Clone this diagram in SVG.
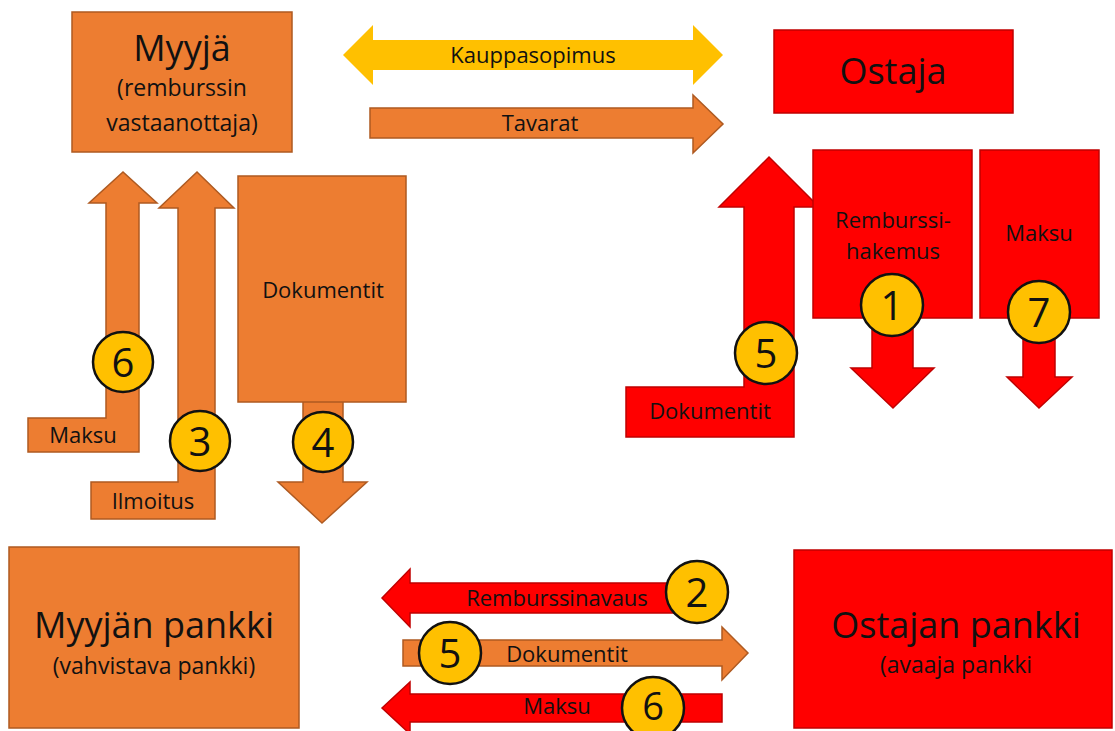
<svg xmlns="http://www.w3.org/2000/svg" width="1115" height="731" viewBox="0 0 1115 731">
<style>
text{font-family:"Open Sans","Noto Sans","Liberation Sans",sans-serif;fill:#111;text-anchor:middle}
.or{fill:#ED7D31;stroke:#AE5A21;stroke-width:1.5}
.rd{fill:#FF0000;stroke:#C00000;stroke-width:1.5}
.ye{fill:#FFC000}
.badge circle{fill:#FFC000;stroke:#111;stroke-width:2.5}
.badge text{font-size:40px}
.big{font-size:36px}
.mid{font-size:23px}
.sm{font-size:22px}
</style>
<rect width="1115" height="731" fill="#fff"/>
<g id="connectors">
<path class="ye" d="M343,55 L373,25 L373,40 L693,40 L693,25 L723,55 L693,85 L693,70 L373,70 L373,85 Z"/>
<text class="sm" x="533" y="63">Kauppasopimus</text>
<path class="or" d="M370,108 L693,108 L693,95 L723,124 L693,153 L693,138 L370,138 Z"/>
<text class="sm" x="540" y="131">Tavarat</text>
<path class="rd" d="M626,387 L744,387 L744,207 L719,207 L769,157 L819,207 L794,207 L794,437 L626,437 Z"/>
<text class="sm" x="710" y="419">Dokumentit</text>
<path class="rd" d="M872,310 L913,310 L913,368 L934,368 L893,408 L851,368 L872,368 Z"/>
<path class="rd" d="M1023,310 L1055,310 L1055,377 L1072,377 L1039,408 L1007,377 L1023,377 Z"/>
<path class="or" d="M28,418 L106,418 L106,203 L89,203 L123,172 L157,203 L139,203 L139,452 L28,452 Z"/>
<text class="sm" x="83" y="443">Maksu</text>
<path class="or" d="M91,482 L178,482 L178,208 L159,208 L197,172 L234,208 L215,208 L215,519 L91,519 Z"/>
<text class="sm" x="153" y="509">Ilmoitus</text>
<path class="or" d="M303,400 L343,400 L343,482 L367,482 L322,523 L278,482 L303,482 Z"/>
<path class="rd" d="M382,598 L410,569 L410,583 L700,583 L700,613 L410,613 L410,627 Z"/>
<text class="sm" x="557" y="606">Remburssinavaus</text>
<path class="or" d="M403,640 L722,640 L722,627 L748,653 L722,680 L722,666 L403,666 Z"/>
<text class="sm" x="567" y="662">Dokumentit</text>
<path class="rd" d="M382,708 L410,682 L410,694 L722,694 L722,722 L410,722 L410,734 Z"/>
<text class="sm" x="557" y="714">Maksu</text>
</g>
<g id="myyja">
<rect class="or" x="72" y="12" width="220" height="140"/>
<text class="big" x="182" y="61">Myyjä</text>
<text class="mid" x="182" y="96">(remburssin</text>
<text class="mid" x="182" y="131">vastaanottaja)</text>
</g>
<g id="ostaja">
<rect class="rd" x="774" y="30" width="239" height="83"/>
<text class="big" x="893" y="84">Ostaja</text>
</g>
<g id="dokumentit-left">
<rect class="or" x="238" y="176" width="168" height="226"/>
<text class="sm" x="323" y="298">Dokumentit</text>
</g>
<g id="remburssihakemus">
<rect class="rd" x="813" y="150" width="159" height="168"/>
<text class="sm" x="893" y="228">Remburssi-</text>
<text class="sm" x="893" y="259">hakemus</text>
</g>
<g id="maksu-right">
<rect class="rd" x="980" y="150" width="119" height="168"/>
<text class="sm" x="1039" y="241">Maksu</text>
</g>
<g id="myyjan-pankki">
<rect class="or" x="9" y="547" width="290" height="181"/>
<text class="big" x="154" y="638">Myyjän pankki</text>
<text class="mid" x="154" y="674">(vahvistava pankki)</text>
</g>
<g id="ostajan-pankki">
<rect class="rd" x="794" y="550" width="318" height="178"/>
<text class="big" x="956" y="638">Ostajan pankki</text>
<text class="mid" x="956" y="673">(avaaja pankki</text>
</g>
<g id="badges" class="badge">
<g id="b1"><circle cx="892" cy="305" r="31"/><text x="892" y="320">1</text></g>
<g id="b7"><circle cx="1039" cy="312" r="31"/><text x="1039" y="327">7</text></g>
<g id="b5r"><circle cx="766" cy="353" r="31"/><text x="766" y="368">5</text></g>
<g id="b6l"><circle cx="123" cy="362" r="30"/><text x="123" y="377">6</text></g>
<g id="b3"><circle cx="200" cy="441" r="30"/><text x="200" y="456">3</text></g>
<g id="b4"><circle cx="323" cy="442" r="30"/><text x="323" y="457">4</text></g>
<g id="b2"><circle cx="697" cy="592" r="31"/><text x="697" y="607">2</text></g>
<g id="b5b"><circle cx="450" cy="653" r="31"/><text x="450" y="668">5</text></g>
<g id="b6b"><circle cx="653" cy="708" r="31"/><text x="653" y="720" style="font-size:38px">6</text></g>
</g>
</svg>
